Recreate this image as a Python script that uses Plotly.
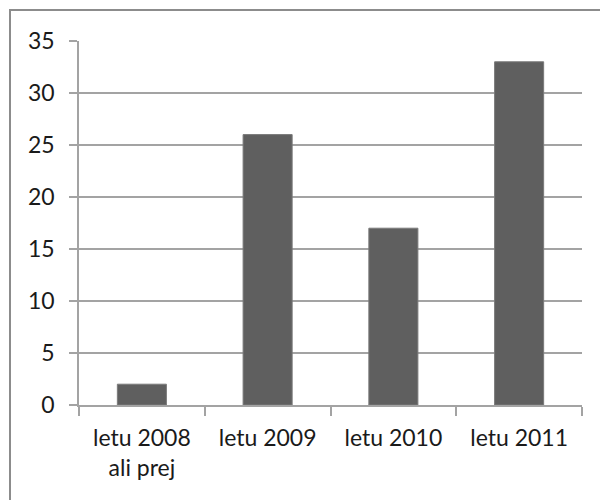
import plotly.graph_objects as go

categories = ["letu 2008<br>ali prej", "letu 2009", "letu 2010", "letu 2011"]
values = [2, 26, 17, 33]
y_ticks = [0, 5, 10, 15, 20, 25, 30, 35]

FONT = "Lato"
GRID = "#a3a3a3"
TEXT = "#1a1a1a"

fig = go.Figure(
    go.Bar(
        x=categories,
        y=values,
        marker=dict(color="#5f5f5f", line=dict(color="#7a7a7a", width=1)),
        width=0.39,
        hoverinfo="x+y",
    )
)

fig.update_layout(
    width=600,
    height=500,
    margin=dict(l=79, r=18, t=41, b=95),
    paper_bgcolor="white",
    plot_bgcolor="white",
    showlegend=False,
    font=dict(family=FONT, size=23, color=TEXT),
    shapes=[
        # chart frame
        dict(
            type="rect",
            xref="paper",
            yref="paper",
            x0=-69 / 503,
            x1=1.2,
            y0=-0.5,
            y1=1 + 31 / 364,
            line=dict(color="#8c8c8c", width=2),
            fillcolor="rgba(0,0,0,0)",
            layer="below",
        )
    ],
)

fig.update_xaxes(
    type="category",
    showline=True,
    linecolor=GRID,
    linewidth=1.5,
    ticks="outside",
    tickson="boundaries",
    ticklen=9,
    tickcolor=GRID,
    tickwidth=1.5,
    showgrid=False,
    ticklabelstandoff=12,
    tickfont=dict(family=FONT, size=23, color=TEXT),
)

fig.update_yaxes(
    range=[0, 35],
    tickvals=y_ticks,
    showline=True,
    linecolor=GRID,
    linewidth=1.5,
    ticks="outside",
    ticklen=8,
    tickcolor=GRID,
    tickwidth=1.5,
    showgrid=True,
    gridcolor=GRID,
    gridwidth=1.5,
    zeroline=False,
    ticklabelstandoff=10,
    tickfont=dict(family=FONT, size=23, color=TEXT),
)

fig.write_html("out.html")
